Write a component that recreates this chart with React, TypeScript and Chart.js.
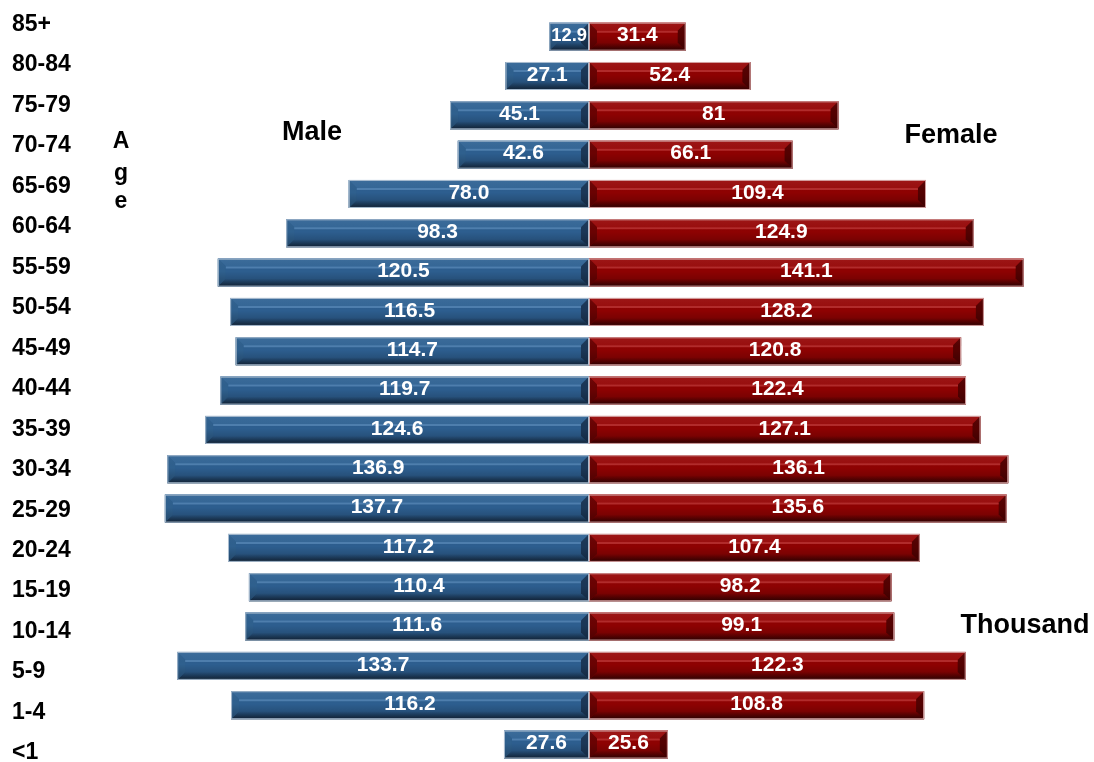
import { useEffect, useRef } from "react";
import { Chart, registerables } from "chart.js";

Chart.register(...registerables);

// Age groups, oldest at the top
const ageGroups = [
  "85+", "80-84", "75-79", "70-74", "65-69", "60-64", "55-59", "50-54", "45-49", "40-44",
  "35-39", "30-34", "25-29", "20-24", "15-19", "10-14", "5-9", "1-4", "<1",
];

// Population in thousands
const maleValues = [
  12.9, 27.1, 45.1, 42.6, 78.0, 98.3, 120.5, 116.5, 114.7, 119.7,
  124.6, 136.9, 137.7, 117.2, 110.4, 111.6, 133.7, 116.2, 27.6,
];
const femaleValues = [
  31.4, 52.4, 81, 66.1, 109.4, 124.9, 141.1, 128.2, 120.8, 122.4,
  127.1, 136.1, 135.6, 107.4, 98.2, 99.1, 122.3, 108.8, 25.6,
];

const FONT = "Arial, 'Liberation Sans', Helvetica, sans-serif";

type Palette = {
  main: string; top: string; hi: string; bottom: string;
  left: string; right: string; edge: string;
};

const palettes: Palette[] = [
  { main: "#2d5e8f", top: "#356797", hi: "#5a89b7", bottom: "#172d47", left: "#2f608e", right: "#1b3757", edge: "#a9bccf" },
  { main: "#8e0202", top: "#9a0e0e", hi: "#bd3a3a", bottom: "#3e0101", left: "#6a0202", right: "#540101", edge: "#d3a0a0" },
];

const formatters = [
  (v: number) => v.toFixed(1),
  (v: number) => String(v),
];

// Free-standing captions around the pyramid
const captions = [
  { text: "Male", x: 312, y: 140, size: 27 },
  { text: "Female", x: 951, y: 143, size: 27 },
  { text: "Thousand", x: 1025, y: 633, size: 27 },
  { text: "A", x: 121, y: 148, size: 23 },
  { text: "g", x: 121, y: 180, size: 23 },
  { text: "e", x: 121, y: 208, size: 23 },
];

function poly(ctx: CanvasRenderingContext2D, pts: number[][], fill: string | CanvasGradient) {
  ctx.beginPath();
  ctx.moveTo(pts[0][0], pts[0][1]);
  for (let i = 1; i < pts.length; i++) ctx.lineTo(pts[i][0], pts[i][1]);
  ctx.closePath();
  ctx.fillStyle = fill;
  ctx.fill();
}

function drawBevelBar(
  ctx: CanvasRenderingContext2D, x0: number, x1: number, yc: number, h: number, pal: Palette,
) {
  const l = Math.min(x0, x1);
  const r = Math.max(x0, x1);
  const t = yc - h / 2;
  const bm = yc + h / 2;
  const w = r - l;
  if (w <= 0) return;
  const b = Math.min(8, w / 2, h / 2);
  ctx.save();
  ctx.fillStyle = pal.main;
  ctx.fillRect(l, t, w, h);
  // top face
  poly(ctx, [[l, t], [r, t], [r - b, t + b], [l + b, t + b]], pal.top);
  // bottom face
  const gb = ctx.createLinearGradient(0, bm - b, 0, bm);
  gb.addColorStop(0, pal.main);
  gb.addColorStop(1, pal.bottom);
  poly(ctx, [[l, bm], [r, bm], [r - b, bm - b], [l + b, bm - b]], gb);
  // side faces
  poly(ctx, [[l, t], [l + b, t + b], [l + b, bm - b], [l, bm]], pal.left);
  poly(ctx, [[r, t], [r - b, t + b], [r - b, bm - b], [r, bm]], pal.right);
  // overall shading: lit from above, shadowed below
  const gm = ctx.createLinearGradient(0, t, 0, bm);
  gm.addColorStop(0, "rgba(255,255,255,0.04)");
  gm.addColorStop(0.45, "rgba(0,0,0,0)");
  gm.addColorStop(1, "rgba(0,0,0,0.28)");
  ctx.fillStyle = gm;
  ctx.fillRect(l, t, w, h);
  // highlight streak
  if (w > 2 * b) {
    ctx.strokeStyle = pal.hi;
    ctx.globalAlpha = 0.75;
    ctx.lineWidth = 2;
    ctx.beginPath();
    ctx.moveTo(l + b, t + b + 1);
    ctx.lineTo(r - b, t + b + 1);
    ctx.stroke();
    ctx.globalAlpha = 1;
  }
  // thin outline
  ctx.strokeStyle = pal.edge;
  ctx.lineWidth = 1;
  ctx.strokeRect(l + 0.5, t + 0.5, w - 1, h - 1);
  ctx.restore();
}

const bevelBars = {
  id: "bevelBars",
  afterDatasetsDraw(chart: Chart) {
    const ctx = chart.ctx;
    chart.data.datasets.forEach((ds, di) => {
      const meta = chart.getDatasetMeta(di);
      const pal = palettes[di];
      const fmt = formatters[di];
      const raw = di === 0 ? maleValues : femaleValues;
      meta.data.forEach((el: any, i: number) => {
        const { x, y, base, height } = el.getProps(["x", "y", "base", "height"], true);
        drawBevelBar(ctx, base, x, y, height, pal);
        const text = fmt(raw[i]);
        const w = Math.abs(x - base);
        let size = 21;
        ctx.save();
        ctx.font = `bold ${size}px ${FONT}`;
        const tw = ctx.measureText(text).width;
        if (tw > w - 4) {
          size = Math.max(10, size * (w - 4) / tw);
          ctx.font = `bold ${size}px ${FONT}`;
        }
        ctx.fillStyle = "#ffffff";
        ctx.textAlign = "center";
        ctx.textBaseline = "middle";
        ctx.fillText(text, (x + base) / 2, y - 1);
        ctx.restore();
      });
    });
  },
  afterDraw(chart: Chart) {
    const ctx = chart.ctx;
    ctx.save();
    ctx.fillStyle = "#000000";
    ctx.textAlign = "center";
    ctx.textBaseline = "alphabetic";
    captions.forEach((c) => {
      ctx.font = `bold ${c.size}px ${FONT}`;
      ctx.fillText(c.text, c.x, c.y);
    });
    ctx.restore();
  },
};

export default function App() {
  const canvasRef = useRef<HTMLCanvasElement | null>(null);

  useEffect(() => {
    const canvas = canvasRef.current;
    if (!canvas) return;
    const chart = new Chart(canvas, {
      type: "bar",
      data: {
        labels: ageGroups,
        datasets: [
          { label: "Male", data: maleValues.map((v) => -v), backgroundColor: "rgba(0,0,0,0)", borderWidth: 0, barThickness: 28 },
          { label: "Female", data: femaleValues, backgroundColor: "rgba(0,0,0,0)", borderWidth: 0, barThickness: 28 },
        ],
      },
      options: {
        indexAxis: "y",
        animation: false,
        responsive: false,
        devicePixelRatio: 1,
        layout: { padding: { left: 12, right: 6, top: 17, bottom: 0 } },
        plugins: {
          legend: { display: false },
          tooltip: { enabled: false },
        },
        scales: {
          x: { type: "linear", min: -162, max: 162, stacked: true, display: false },
          y: { type: "category", stacked: true, display: false, offset: true },
          // label column for the age groups, spaced a little wider than the bars
          ageAxis: {
            type: "linear",
            axis: "y",
            position: "left",
            reverse: true,
            offset: false,
            min: -0.19,
            max: 18.277,
            grid: { display: false },
            border: { display: false },
            afterBuildTicks: (scale: any) => {
              scale.ticks = ageGroups.map((_, i) => ({ value: i }));
            },
            afterFit: (scale: any) => {
              scale.width = 78;
            },
            ticks: {
              autoSkip: false,
              crossAlign: "far",
              padding: 0,
              color: "#000000",
              font: { size: 23, weight: "bold", family: FONT },
              callback: (v: any) => ageGroups[Number(v)] ?? "",
            },
          },
        },
      } as any,
      plugins: [bevelBars],
    });
    return () => chart.destroy();
  }, []);

  return (
    <div style={{ position: "fixed", left: 0, top: 0, width: 1094, height: 762, overflow: "hidden", background: "#ffffff" }}>
      <canvas ref={canvasRef} width={1094} height={778} style={{ display: "block" }} />
    </div>
  );
}
